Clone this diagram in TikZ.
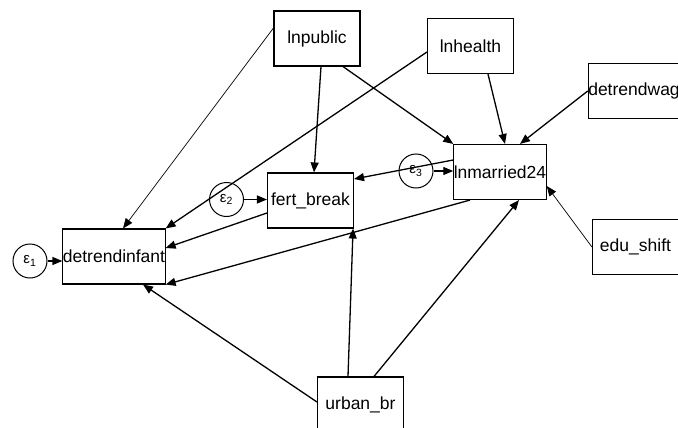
\documentclass[tikz,border=0pt]{standalone}
\usepackage{fontspec}
\setmainfont{Liberation Sans}
\usetikzlibrary{arrows.meta}
\begin{document}
\begin{tikzpicture}[x=1pt,y=-1pt,
  var/.style={draw,line width=1.1pt,rectangle,minimum width=86pt,minimum height=55pt,inner sep=0pt,font=\fontsize{17.5}{18}\selectfont},
  err/.style={draw,line width=1pt,circle,minimum size=34pt,inner sep=0pt,font=\fontsize{15}{15}\selectfont},
  path/.style={line width=1.3pt,-{Triangle[length=10pt,width=8pt]}},
  thinpath/.style={line width=0.7pt,-{Triangle[length=10pt,width=8pt]}}]
\fill[white] (0,0) rectangle (678,428);
\useasboundingbox (0,0) rectangle (678,428);
\node[var] (infant) at (114,256.5) {detrendinfant};
\node[var] (fert) at (310.5,200.5) {fert\_break};
\node[var] (married) at (500,172) {lnmarried24};
\node[var] (pub) at (317,38.5) {lnpublic};
\node[var] (health) at (470.5,46) {lnhealth};
\node[var] (wag) at (634,91) {detrendwag};
\node[var] (edu) at (635.5,247) {edu\_shift};
\node[var] (urban) at (360.5,404.5) {urban\_br};
\node[err] (e1) at (30,261) {ε\textsubscript{1}};
\node[err] (e2) at (226.5,199.5) {ε\textsubscript{2}};
\node[err] (e3) at (416,171) {ε\textsubscript{3}};
\draw[path] (e1.east) -- (e1.east -| infant.west);
\draw[path] (e2.east) -- (e2.east -| fert.west);
\draw[path] (e3.east) -- (e3.east -| married.west);
\draw[thinpath] ([yshift=10.5pt]pub.west) -- ([xshift=9pt]infant.north);
\draw[path] ([xshift=4pt]pub.south) -- ([xshift=3.5pt]fert.north);
\draw[path] ([xshift=26pt]pub.south) -- (married.north west);
\draw[path] ([yshift=-6pt]health.west) -- (infant.north east);
\draw[path] ([xshift=17.5pt]health.south) -- ([xshift=5pt]married.north);
\draw[path] (wag.west) -- ([xshift=20pt]married.north);
\draw[thinpath] (edu.west) -- ([yshift=-14pt]married.east);
\draw[path] ([yshift=2.5pt]urban.west) -- ([xshift=29pt]infant.south);
\draw[path] ([xshift=-12.5pt]urban.north) -- ([xshift=-1pt]fert.south east);
\draw[path] ([xshift=13.5pt]urban.north) -- ([xshift=19pt]married.south);
\draw[path] ([xshift=-30pt]married.south) -- (infant.south east);
\draw[path] ([yshift=12pt]married.west) -- ([yshift=21.5pt]fert.east);
\draw[path] ([yshift=-12.5pt]fert.west) -- ([yshift=8.5pt]infant.east);
\end{tikzpicture}
\end{document}
